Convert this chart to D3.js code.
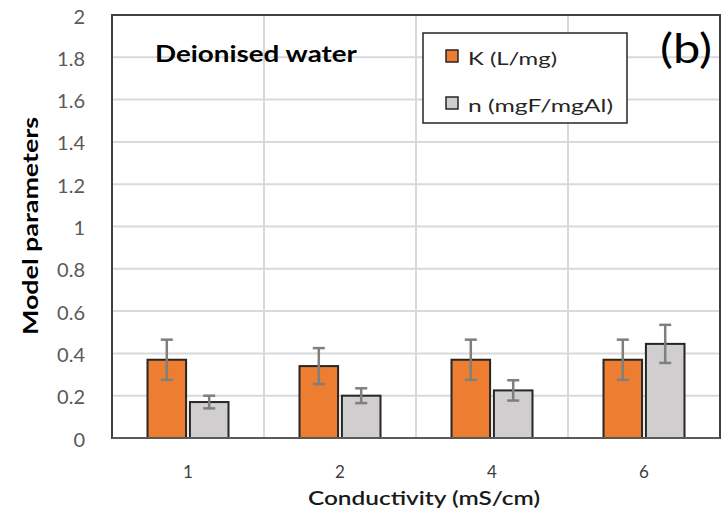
<!DOCTYPE html>
<html><head><meta charset="utf-8">
<script src="https://cdn.jsdelivr.net/npm/d3@7"></script>
<style>body{margin:0;background:#fff}svg{display:block}text{font-family:Lato,"Open Sans",sans-serif}</style>
</head><body>
<svg id="c" width="728" height="520"></svg>
<script>
const categories = ["1","2","4","6"];
const seriesNames = ["K (L/mg)","n (mgF/mgAl)"];
const seriesColors = ["#ed7d31","#d0cece"];
const kValues = [0.37,0.34,0.37,0.37];
const kErrors = [0.095,0.085,0.095,0.095];
const nValues = [0.17,0.20,0.225,0.445];
const nErrors = [0.03,0.035,0.048,0.09];
const yTicks = [0,0.2,0.4,0.6,0.8,1,1.2,1.4,1.6,1.8,2];

const svg = d3.select("#c");
const m = {l:112,r:8,t:15,b:82};
const W = 728, H = 520;
const x = d3.scaleBand().domain(categories).range([m.l, W-m.r]).paddingInner(0).paddingOuter(0);
const y = d3.scaleLinear().domain([0,2]).range([H-m.b, m.t]);
const xs = d3.scaleBand().domain([0,1]).range([0, 81]).paddingInner(0.09);

svg.append("g").selectAll("line").data(yTicks.slice(1)).join("line")
  .attr("x1",m.l).attr("x2",W-m.r).attr("y1",d=>y(d)).attr("y2",d=>y(d))
  .attr("stroke","#d9d9d9").attr("stroke-width",2);
svg.append("g").selectAll("line").data(categories.slice(1)).join("line")
  .attr("x1",d=>x(d)).attr("x2",d=>x(d)).attr("y1",m.t).attr("y2",H-m.b)
  .attr("stroke","#d9d9d9").attr("stroke-width",2);

const yAxis = d3.axisLeft(y).tickValues(yTicks).tickSize(0).tickPadding(27).tickFormat(d=>String(d));
const gy = svg.append("g").attr("transform",`translate(${m.l},0)`).call(yAxis);
gy.select(".domain").remove();
gy.selectAll("text").attr("font-size",20).attr("fill","#595959").attr("dy","0.4em").style("font-family","Lato, sans-serif");

const xAxis = d3.axisBottom(x).tickSize(0).tickPadding(28);
const gx = svg.append("g").attr("transform",`translate(0,${H-m.b})`).call(xAxis);
gx.select(".domain").remove();
gx.selectAll("text").attr("font-size",17).attr("fill","#404040").style("font-family","Lato, sans-serif");

const series = [{v:kValues,e:kErrors},{v:nValues,e:nErrors}];
series.forEach((s,si)=>{
  const g = svg.append("g");
  g.selectAll("rect").data(categories).join("rect")
    .attr("x",(c)=>x(c)+x.bandwidth()/2-40.5+xs(si))
    .attr("width",xs.bandwidth())
    .attr("y",(c,i)=>y(s.v[i]))
    .attr("height",(c,i)=>y(0)-y(s.v[i]))
    .attr("fill",seriesColors[si]).attr("stroke","#262626").attr("stroke-width",2);
  const eg = svg.append("g").attr("stroke","#7f7f7f").attr("stroke-width",2.5);
  categories.forEach((c,i)=>{
    const cx = x(c)+x.bandwidth()/2-40.5+xs(si)+xs.bandwidth()/2;
    const top = y(s.v[i]+s.e[i]), bot = y(s.v[i]-s.e[i]);
    eg.append("line").attr("x1",cx).attr("x2",cx).attr("y1",top).attr("y2",bot);
    eg.append("line").attr("x1",cx-6).attr("x2",cx+6).attr("y1",top).attr("y2",top);
    eg.append("line").attr("x1",cx-6).attr("x2",cx+6).attr("y1",bot).attr("y2",bot);
  });
});

svg.append("rect").attr("x",m.l).attr("y",m.t).attr("width",W-m.r-m.l).attr("height",H-m.b-m.t)
  .attr("fill","none").attr("stroke","#404040").attr("stroke-width",2);
svg.append("line").attr("x1",m.l).attr("x2",W-m.r).attr("y1",y(0)).attr("y2",y(0))
  .attr("stroke","#595959").attr("stroke-width",2);

svg.append("text").attr("transform",`translate(38,226) rotate(-90)`)
  .attr("text-anchor","middle").attr("font-size",21).attr("font-weight","bold").attr("fill","#000")
  .attr("textLength",218).attr("lengthAdjust","spacingAndGlyphs")
  .text("Model parameters");
svg.append("text").attr("x",424).attr("y",505).attr("text-anchor","middle")
  .attr("font-size",20).attr("fill","#1a1a1a").attr("font-weight","600")
  .attr("textLength",232).attr("lengthAdjust","spacingAndGlyphs").text("Conductivity (mS/cm)");

svg.append("text").attr("x",155).attr("y",62).attr("font-size",22).attr("font-weight","bold").attr("fill","#000")
  .attr("textLength",202).attr("lengthAdjust","spacingAndGlyphs").text("Deionised water");
svg.append("text").attr("x",660).attr("y",63).attr("font-size",40).attr("fill","#000")
  .attr("textLength",52).attr("lengthAdjust","spacingAndGlyphs").text("(b)");

const lg = svg.append("g");
lg.append("rect").attr("x",423).attr("y",33).attr("width",204).attr("height",90)
  .attr("fill","#fff").attr("stroke","#262626").attr("stroke-width",1.5);
const legendLens = [89,145];
seriesNames.forEach((nm,i)=>{
  const yy = 58 + i*47;
  lg.append("rect").attr("x",446).attr("y",yy-8).attr("width",12).attr("height",12)
    .attr("fill",seriesColors[i]).attr("stroke","#262626").attr("stroke-width",1.5);
  lg.append("text").attr("x",468).attr("y",yy+7).attr("font-size",18).attr("fill","#262626")
    .attr("textLength",legendLens[i]).attr("lengthAdjust","spacingAndGlyphs").text(nm);
});
</script>
</body></html>
